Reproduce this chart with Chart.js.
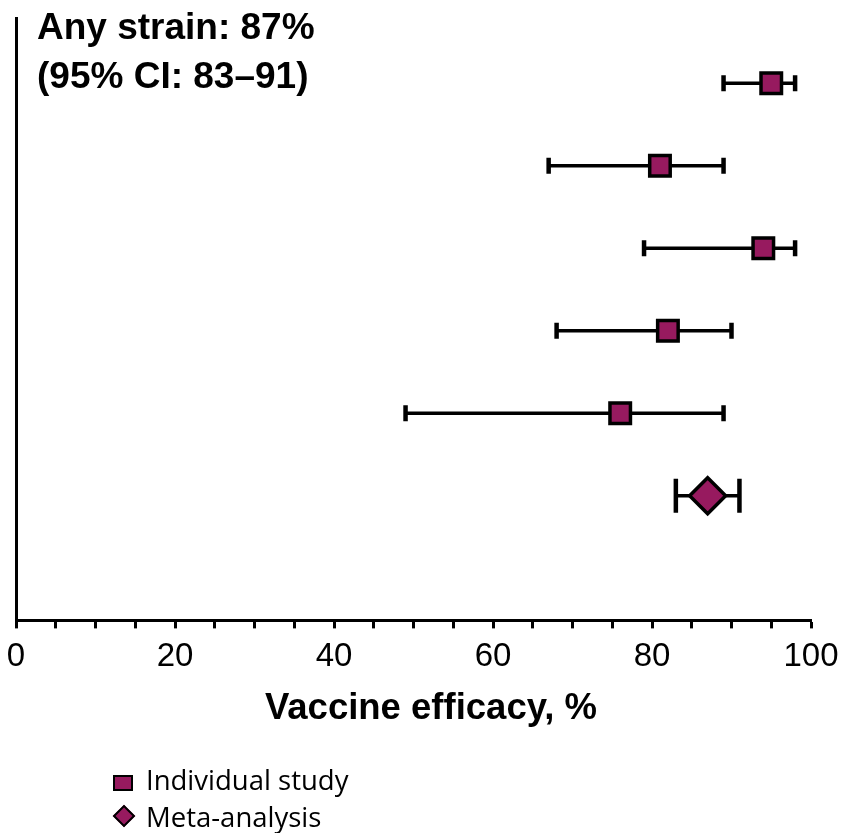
<!DOCTYPE html>
<html>
<head>
<meta charset="utf-8">
<script src="https://cdn.jsdelivr.net/npm/chart.js@4.4.0/dist/chart.umd.min.js"></script>
<style>
  html, body { margin: 0; padding: 0; background: #fff; }
  #wrap { position: relative; width: 848px; height: 833px; }
  #note {
    position: absolute; left: 37px; top: 2px;
    font: bold 37px "Liberation Sans", Arial, sans-serif;
    line-height: 49px; color: #000;
  }
  #xtitle {
    position: absolute; left: 7px; top: 685px; width: 848px; text-align: center;
    font: bold 36.5px "Liberation Sans", Arial, sans-serif;
    line-height: 44px; color: #000;
  }
  #legend {
    position: absolute; left: 113px; top: 761px;
    font: 27.5px "Open Sans", "Noto Sans", sans-serif;
    line-height: 37px; color: #000;
  }
  #legend div { position: relative; padding-left: 33px; white-space: nowrap; }
  .sq {
    position: absolute; left: 0; top: 14px; width: 16px; height: 12px;
    background: #971a5f; border: 2px solid #000;
  }
  .dm {
    position: absolute; left: 3px; top: 10px; width: 12px; height: 12px;
    background: #971a5f; border: 2px solid #000; transform: rotate(45deg);
  }
</style>
</head>
<body>
<div id="wrap">
  <canvas id="chart" width="848" height="833"></canvas>
  <div id="note">Any strain: 87%<br>(95% CI: 83–91)</div>
  <div id="xtitle">Vaccine efficacy, %</div>
  <div id="legend">
    <div><span class="sq"></span>Individual study</div>
    <div><span class="dm"></span>Meta-analysis</div>
  </div>
</div>
<script>
// individual studies (top to bottom)
const studyRows = [1, 2, 3, 4, 5];
const studyEff = [95, 81, 94, 82, 76];
const studyLow = [89, 67, 79, 68, 49];
const studyHigh = [98, 89, 98, 90, 89];

// pooled estimate
const metaRow = [6];
const metaEff = [87];
const metaLow = [83];
const metaHigh = [91];

const xTicks = [0, 20, 40, 60, 80, 100];
const fill = '#971a5f';

// whiskers drawn under the markers
const errorBars = {
  id: 'errorBars',
  beforeDatasetsDraw(chart) {
    const { ctx, scales: { x, y } } = chart;
    const draw = (rows, lo, hi, cap) => {
      rows.forEach((r, i) => {
        const py = y.getPixelForValue(r);
        const x1 = x.getPixelForValue(lo[i]);
        const x2 = x.getPixelForValue(hi[i]);
        ctx.lineWidth = 3.5;
        ctx.beginPath();
        ctx.moveTo(x1, py); ctx.lineTo(x2, py);
        ctx.stroke();
        ctx.lineWidth = 4.5;
        ctx.beginPath();
        ctx.moveTo(x1, py - cap); ctx.lineTo(x1, py + cap);
        ctx.moveTo(x2, py - cap); ctx.lineTo(x2, py + cap);
        ctx.stroke();
      });
    };
    ctx.save();
    ctx.strokeStyle = '#000';
    draw(studyRows, studyLow, studyHigh, 8);
    draw(metaRow, metaLow, metaHigh, 17);
    ctx.restore();
  }
};

new Chart(document.getElementById('chart'), {
  type: 'scatter',
  data: {
    datasets: [{
      label: 'Individual study',
      data: studyEff.map((v, i) => ({ x: v, y: studyRows[i] })),
      pointStyle: 'rect',
      pointRadius: 14.5,
      backgroundColor: fill,
      borderColor: '#000',
      borderWidth: 3.5
    }, {
      label: 'Meta-analysis',
      data: metaEff.map((v, i) => ({ x: v, y: metaRow[i] })),
      pointStyle: 'rectRot',
      pointRadius: 18,
      backgroundColor: fill,
      borderColor: '#000',
      borderWidth: 3.5
    }]
  },
  options: {
    responsive: false,
    animation: false,
    layout: { autoPadding: false, padding: { left: 16, right: 37, top: 18, bottom: 147 } },
    plugins: { legend: { display: false }, tooltip: { enabled: false } },
    scales: {
      x: {
        type: 'linear', min: 0, max: 100,
        afterFit(scale) { scale.paddingLeft = 0; scale.paddingRight = 0; },
        border: { display: true, color: '#000', width: 3 },
        grid: { drawOnChartArea: false, drawTicks: true, tickLength: 8, tickWidth: 3, tickColor: '#000' },
        ticks: {
          stepSize: 5, autoSkip: false, maxRotation: 0, padding: 9,
          color: '#000',
          font: { family: '"Liberation Sans", Arial', size: 33 },
          callback: v => xTicks.includes(v) ? String(v) : ''
        },
        title: { display: false }
      },
      y: {
        type: 'linear', min: 0.21, max: 7.51, reverse: true,
        afterFit(scale) { scale.width = 0; },
        border: { display: true, color: '#000', width: 3 },
        grid: { display: false, drawTicks: false },
        ticks: { display: false }
      }
    }
  },
  plugins: [errorBars]
});
</script>
</body>
</html>
